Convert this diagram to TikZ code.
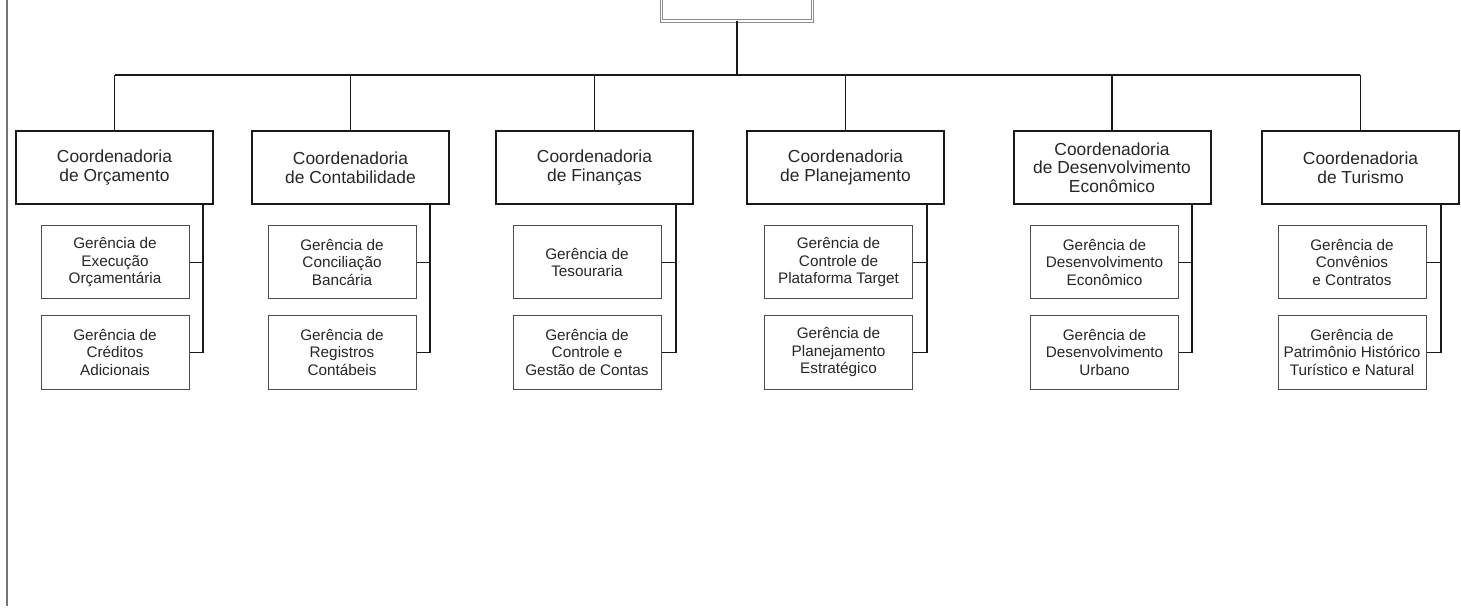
\documentclass[tikz,border=0pt]{standalone}
\usepackage{fontspec}
\setmainfont{Liberation Sans}
\begin{document}
\begin{tikzpicture}[x=1pt,y=-1pt,
  coordbox/.style={draw=black!90, line width=2pt, minimum width=197pt, minimum height=73pt, inner sep=0pt, align=center, font=\fontsize{17.4}{18.6}\selectfont, text=black!85},
  subbox/.style={draw=black!70, line width=1pt, minimum width=148pt, minimum height=73pt, inner sep=0pt, align=center, font=\fontsize{15.3}{17.5}\selectfont, text=black!85},
  link/.style={draw=black!90, line width=1.3pt},
  toplink/.style={draw=black!90, line width=1.5pt}]
\useasboundingbox (0,0) rectangle (1461,609);
\begin{scope}
\clip (0,0) rectangle (1461,609);
\node[draw=black!45, line width=0.8pt, double=white, double distance=1.6pt, minimum width=151pt, minimum height=60pt, inner sep=0pt] (top) at (737,-9) {};
\end{scope}
\draw[draw=black!55, line width=1.5pt] (7,0) -- (7,606);

\coordinate (hl) at (115,75);
\coordinate (hr) at (1360,75);
\draw[toplink] (top.south) -- (top.south |- hl);
\draw[toplink] (hl) -- (hr);

% column centers
\foreach \i/\cx/\sx/\vx/\ct/\ta/\tb in {
 1/114.5/115/203/{Coordenadoria\\de Orçamento}/{Gerência de\\Execução\\Orçamentária}/{Gerência de\\Créditos\\Adicionais},
 2/350.5/342/430/{Coordenadoria\\de Contabilidade}/{Gerência de\\Conciliação\\Bancária}/{Gerência de\\Registros\\Contábeis},
 3/594.5/587/676/{Coordenadoria\\de Finanças}/{Gerência de\\Tesouraria}/{Gerência de\\Controle e\\Gestão de Contas},
 4/845.5/838.5/927/{Coordenadoria\\de Planejamento}/{Gerência de\\Controle de\\Plataforma Target}/{Gerência de\\Planejamento\\Estratégico},
 5/1112/1104.5/1192/{Coordenadoria\\de Desenvolvimento\\Econômico}/{Gerência de\\Desenvolvimento\\Econômico}/{Gerência de\\Desenvolvimento\\Urbano},
 6/1360.5/1352/1441/{Coordenadoria\\de Turismo}/{Gerência de\\Convênios\\e Contratos}/{Gerência de\\Patrimônio Histórico\\Turístico e Natural}}
{
  \node[coordbox] (c\i) at (\cx,167.5) {\ct};
  \node[subbox] (a\i) at (\sx,262.5) {\ta};
  \node[subbox] (b\i) at (\sx,352.5) {\tb};
  \coordinate (v\i) at (\vx,204);
  \draw[link] (c\i.north |- hl) -- (c\i.north);
  \draw[link] (v\i) |- (b\i.east);
  \draw[link] (a\i.east) -- (a\i.east -| v\i);
}
\end{tikzpicture}
\end{document}
